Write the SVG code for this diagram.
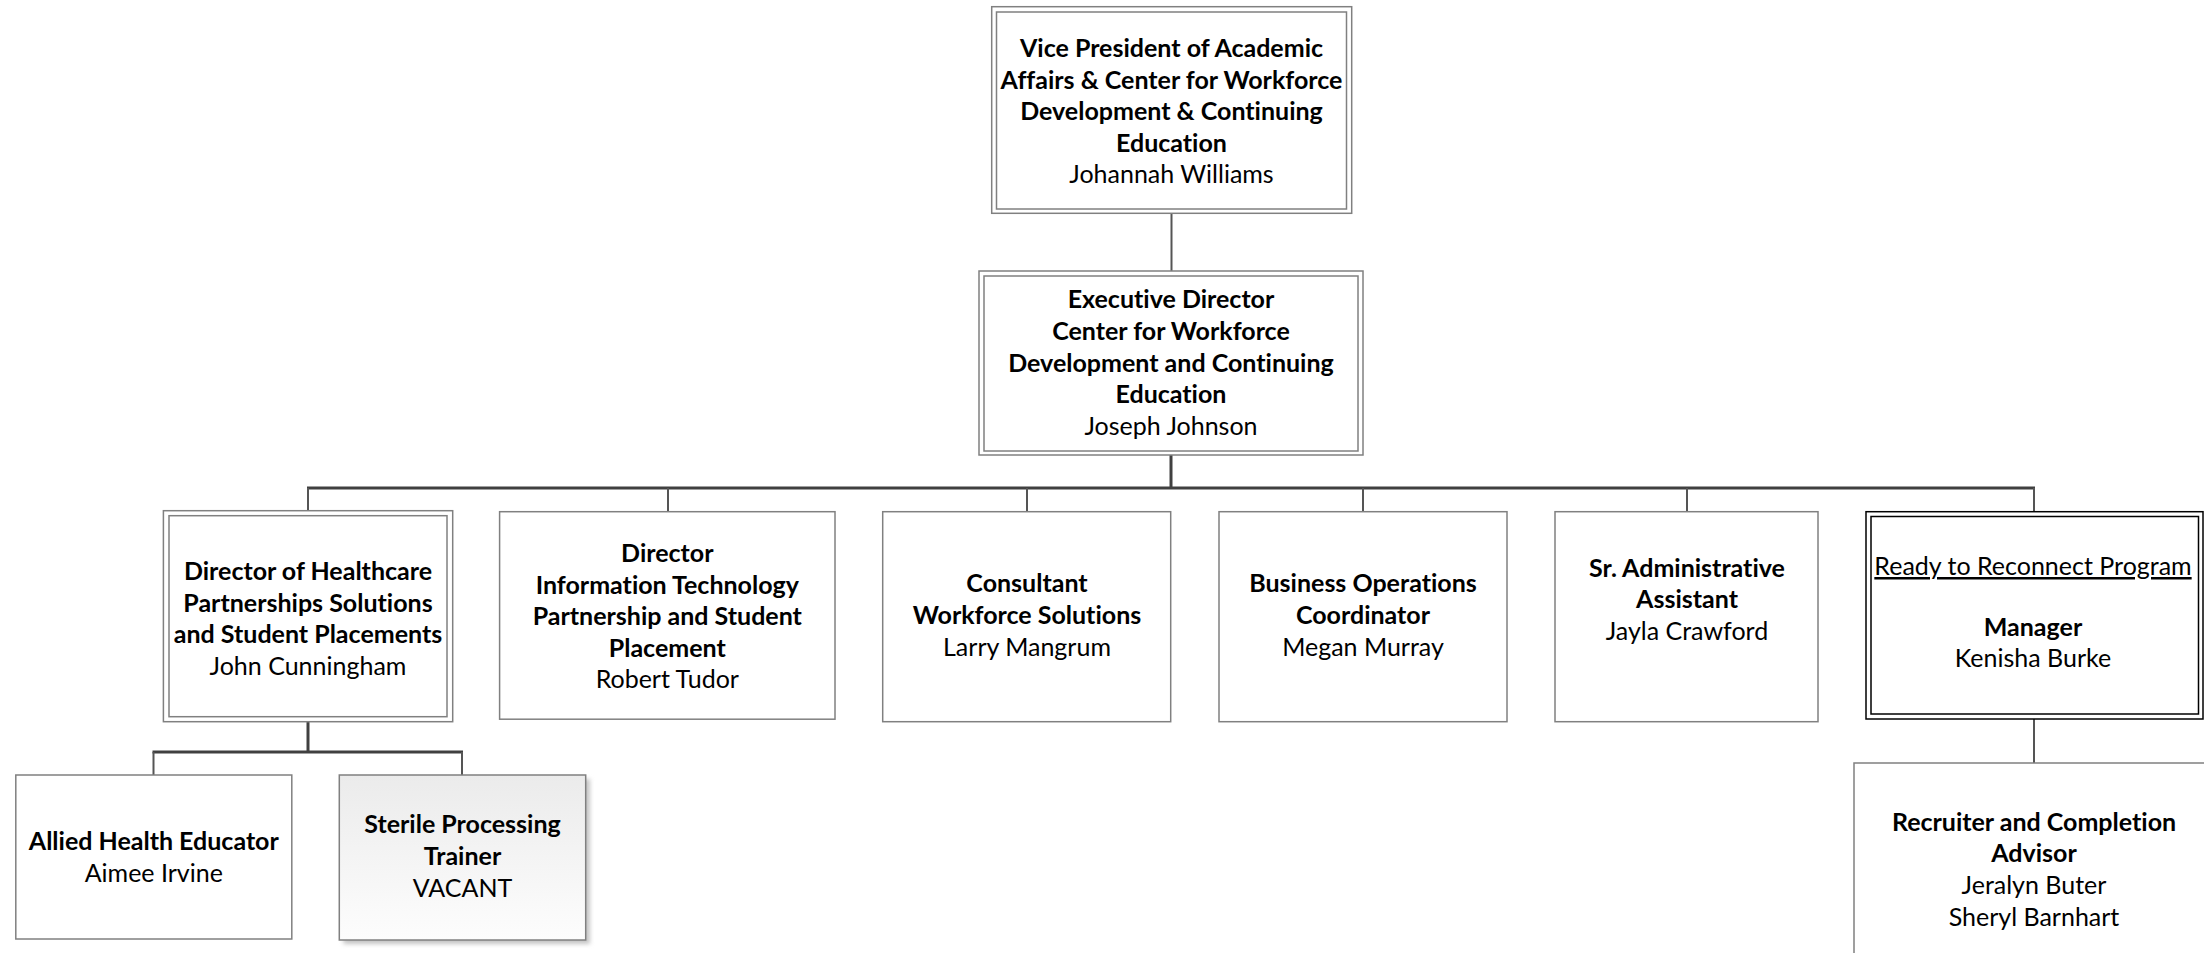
<svg xmlns="http://www.w3.org/2000/svg" width="2204" height="953" viewBox="0 0 2204 953">
<style>
  text { font-family: Lato, "Open Sans", "Liberation Sans", sans-serif; font-size: 25px; fill: #000; text-anchor: middle; font-variant-ligatures: none; font-feature-settings: "liga" 0, "clig" 0; }
  .b { font-weight: bold; }
  .box { fill: #fff; stroke: #808080; stroke-width: 1.5; }
  .dbl { fill: none; stroke: #808080; stroke-width: 1.5; }
  .blk { fill: none; stroke: #000; stroke-width: 1.5; }
  .trunk { stroke: #404040; stroke-width: 3; fill: none; }
  .drop { stroke: #555; stroke-width: 2; fill: none; }
</style>
<defs>
  <linearGradient id="vacant" x1="0" y1="0" x2="0" y2="1">
    <stop offset="0" stop-color="#ebebeb"/>
    <stop offset="1" stop-color="#fdfdfd"/>
  </linearGradient>
  <filter id="shadow" x="-10%" y="-10%" width="130%" height="130%">
    <feGaussianBlur stdDeviation="2"/>
  </filter>
</defs>
<rect width="2204" height="953" fill="#fff"/>

<g id="connectors">
  <line class="drop" x1="1171.5" y1="213" x2="1171.5" y2="271"/>
  <line class="trunk" x1="1171" y1="455" x2="1171" y2="488"/>
  <line class="trunk" x1="307" y1="488" x2="2035" y2="488"/>
  <line class="drop" x1="308" y1="488" x2="308" y2="511"/>
  <line class="drop" x1="668" y1="488" x2="668" y2="512"/>
  <line class="drop" x1="1027" y1="488" x2="1027" y2="512"/>
  <line class="drop" x1="1363" y1="488" x2="1363" y2="512"/>
  <line class="drop" x1="1687" y1="488" x2="1687" y2="512"/>
  <line class="drop" x1="2034" y1="488" x2="2034" y2="512"/>
  <line class="trunk" x1="308" y1="722" x2="308" y2="752"/>
  <line class="trunk" x1="152.5" y1="752" x2="463" y2="752"/>
  <line class="drop" x1="153.5" y1="752" x2="153.5" y2="775"/>
  <line class="drop" x1="462" y1="752" x2="462" y2="775"/>
  <line class="drop" x1="2034" y1="719" x2="2034" y2="763"/>
</g>

<g id="vp">
  <rect x="991.7" y="6.7" width="360" height="206.6" fill="#fff" stroke="#808080" stroke-width="1.5"/>
  <rect x="996.5" y="12" width="350" height="197" class="dbl"/>
  <text x="1171.5" y="57" class="b">Vice President of Academic</text>
  <text x="1171.5" y="88.6" class="b">Affairs &amp; Center for Workforce</text>
  <text x="1171.5" y="120.2" class="b">Development &amp; Continuing</text>
  <text x="1171.5" y="151.8" class="b">Education</text>
  <text x="1171.5" y="183.4">Johannah Williams</text>
</g>

<g id="exec">
  <rect x="979" y="271" width="384" height="184" fill="#fff" stroke="#808080" stroke-width="1.5"/>
  <rect x="984" y="276" width="374" height="175" class="dbl"/>
  <text x="1171" y="308.3" class="b">Executive Director</text>
  <text x="1171" y="340" class="b">Center for Workforce</text>
  <text x="1171" y="371.7" class="b">Development and Continuing</text>
  <text x="1171" y="403.3" class="b">Education</text>
  <text x="1171" y="435">Joseph Johnson</text>
</g>

<g id="healthcare">
  <rect x="163.4" y="510.7" width="289.3" height="211" fill="#fff" stroke="#808080" stroke-width="1.5"/>
  <rect x="169" y="515.7" width="278" height="201" class="dbl"/>
  <text x="308" y="580" class="b">Director of Healthcare</text>
  <text x="308" y="611.7" class="b">Partnerships Solutions</text>
  <text x="308" y="643.3" class="b">and Student Placements</text>
  <text x="308" y="675">John Cunningham</text>
</g>

<g id="it">
  <rect x="499.6" y="511.7" width="335.4" height="207.5" class="box"/>
  <text x="667.3" y="562" class="b">Director</text>
  <text x="667.3" y="593.6" class="b">Information Technology</text>
  <text x="667.3" y="625.2" class="b">Partnership and Student</text>
  <text x="667.3" y="656.8" class="b">Placement</text>
  <text x="667.3" y="688.4">Robert Tudor</text>
</g>

<g id="consultant">
  <rect x="882.7" y="511.7" width="288" height="210" class="box"/>
  <text x="1027" y="592" class="b">Consultant</text>
  <text x="1027" y="624" class="b">Workforce Solutions</text>
  <text x="1027" y="655.7">Larry Mangrum</text>
</g>

<g id="business">
  <rect x="1219" y="511.7" width="288" height="210" class="box"/>
  <text x="1363" y="592" class="b">Business Operations</text>
  <text x="1363" y="624" class="b">Coordinator</text>
  <text x="1363" y="655.7">Megan Murray</text>
</g>

<g id="admin">
  <rect x="1555" y="511.7" width="263" height="210" class="box"/>
  <text x="1687" y="576.7" class="b">Sr. Administrative</text>
  <text x="1687" y="608.3" class="b">Assistant</text>
  <text x="1687" y="640">Jayla Crawford</text>
</g>

<g id="reconnect">
  <rect x="1866" y="511.7" width="337" height="207.3" fill="#fff" stroke="#000" stroke-width="1.5"/>
  <rect x="1871" y="516.5" width="327.5" height="197.5" class="blk"/>
  <text x="2033" y="575" text-decoration="underline">Ready to Reconnect Program</text>
  <text x="2033" y="636" class="b">Manager</text>
  <text x="2033" y="667">Kenisha Burke</text>
</g>

<g id="allied">
  <rect x="15.8" y="775" width="276" height="164" class="box"/>
  <text x="153.8" y="850" class="b">Allied Health Educator</text>
  <text x="153.8" y="881.6">Aimee Irvine</text>
</g>

<g id="sterile">
  <rect x="343.5" y="779" width="246.4" height="165" fill="#c4c4c4" filter="url(#shadow)"/>
  <rect x="339.3" y="775" width="246.4" height="165" fill="url(#vacant)" stroke="#808080" stroke-width="1.5"/>
  <text x="462.5" y="833" class="b">Sterile Processing</text>
  <text x="462.5" y="865" class="b">Trainer</text>
  <text x="462.5" y="896.7">VACANT</text>
</g>

<g id="recruiter">
  <rect x="1854" y="763" width="370" height="210" class="box"/>
  <text x="2034" y="830.5" class="b">Recruiter and Completion</text>
  <text x="2034" y="862" class="b">Advisor</text>
  <text x="2034" y="894">Jeralyn Buter</text>
  <text x="2034" y="926">Sheryl Barnhart</text>
</g>
</svg>
